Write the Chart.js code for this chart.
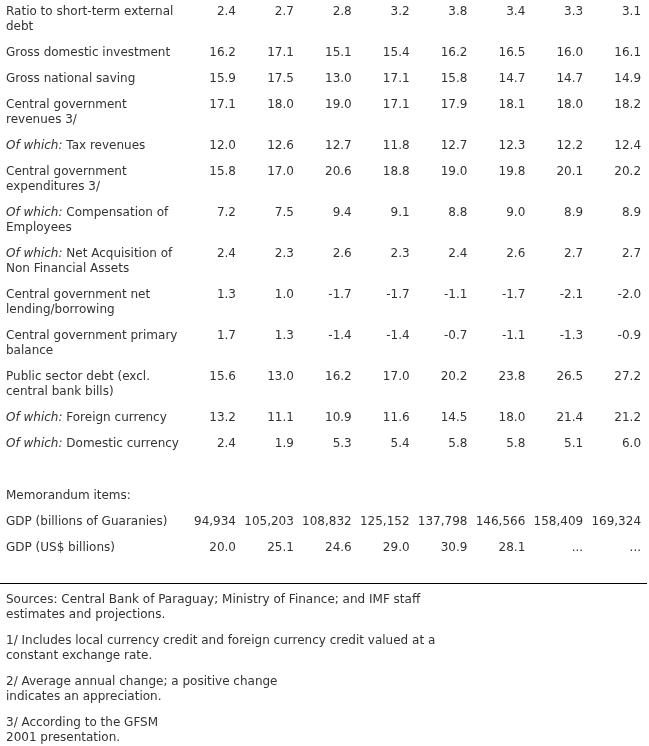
<!DOCTYPE html>
<html>
<head>
<meta charset="utf-8">
<script src="https://cdn.jsdelivr.net/npm/chart.js@4.4.1/dist/chart.umd.min.js"></script>
<style>
  html, body { margin: 0; padding: 0; background: #fff; }
  #wrap { width: 649px; height: 746px; position: relative; }
</style>
</head>
<body>
<div id="wrap"><canvas id="tableChart"></canvas></div>
<script>
// Row labels, wrapped as in the original table ('' = empty spacer row)
const rowLabels = [
  ['Ratio to short-term external', 'debt'],
  ['Gross domestic investment'],
  ['Gross national saving'],
  ['Central government', 'revenues 3/'],
  ['Of which: Tax revenues'],
  ['Central government', 'expenditures 3/'],
  ['Of which: Compensation of', 'Employees'],
  ['Of which: Net Acquisition of', 'Non Financial Assets'],
  ['Central government net', 'lending/borrowing'],
  ['Central government primary', 'balance'],
  ['Public sector debt (excl.', 'central bank bills)'],
  ['Of which: Foreign currency'],
  ['Of which: Domestic currency'],
  [''],
  ['Memorandum items:'],
  ['GDP (billions of Guaranies)'],
  ['GDP (US$ billions)']
];

// Values, one array per row, eight columns each
const shortTermDebtRatio = [2.4, 2.7, 2.8, 3.2, 3.8, 3.4, 3.3, 3.1];
const grossInvestment    = [16.2, 17.1, 15.1, 15.4, 16.2, 16.5, 16.0, 16.1];
const grossSaving        = [15.9, 17.5, 13.0, 17.1, 15.8, 14.7, 14.7, 14.9];
const cgRevenues         = [17.1, 18.0, 19.0, 17.1, 17.9, 18.1, 18.0, 18.2];
const taxRevenues        = [12.0, 12.6, 12.7, 11.8, 12.7, 12.3, 12.2, 12.4];
const cgExpenditures     = [15.8, 17.0, 20.6, 18.8, 19.0, 19.8, 20.1, 20.2];
const compensation       = [7.2, 7.5, 9.4, 9.1, 8.8, 9.0, 8.9, 8.9];
const netAcquisition     = [2.4, 2.3, 2.6, 2.3, 2.4, 2.6, 2.7, 2.7];
const netLending         = [1.3, 1.0, -1.7, -1.7, -1.1, -1.7, -2.1, -2.0];
const primaryBalance     = [1.7, 1.3, -1.4, -1.4, -0.7, -1.1, -1.3, -0.9];
const publicDebt         = [15.6, 13.0, 16.2, 17.0, 20.2, 23.8, 26.5, 27.2];
const foreignCurrency    = [13.2, 11.1, 10.9, 11.6, 14.5, 18.0, 21.4, 21.2];
const domesticCurrency   = [2.4, 1.9, 5.3, 5.4, 5.8, 5.8, 5.1, 6.0];
const gdpGuaranies       = [94934, 105203, 108832, 125152, 137798, 146566, 158409, 169324];
const gdpUsd             = [20.0, 25.1, 24.6, 29.0, 30.9, 28.1, null, null];

const rowValues = [
  shortTermDebtRatio, grossInvestment, grossSaving, cgRevenues, taxRevenues,
  cgExpenditures, compensation, netAcquisition, netLending, primaryBalance,
  publicDebt, foreignCurrency, domesticCurrency, null, null, gdpGuaranies, gdpUsd
];

const notes = [
  ['Sources: Central Bank of Paraguay; Ministry of Finance; and IMF staff', 'estimates and projections.'],
  ['1/ Includes local currency credit and foreign currency credit valued at a', 'constant exchange rate.'],
  ['2/ Average annual change; a positive change', 'indicates an appreciation.'],
  ['3/ According to the GFSM', '2001 presentation.']
];

const FONT = '"DejaVu Sans", Verdana, sans-serif';
const textColor = '#333';
const lineHeight = 15;
const rowGap = 11;

// baselines (in y-axis units) worked out from how many lines each row has
const rowBaselines = [];
let yPos = 14.5;
rowLabels.forEach(lines => { rowBaselines.push(yPos); yPos += lines.length * lineHeight + rowGap; });
const ruleY = yPos + 6.5;
const noteBaselines = [];
yPos += lineHeight + rowGap;
notes.forEach(lines => { noteBaselines.push(yPos); yPos += lines.length * lineHeight + rowGap; });

function fmt(v, r) {
  if (v === null) return '...';
  if (Math.abs(v) >= 1000) return v.toLocaleString('en-US');
  return v.toFixed(1);
}

const datasets = rowValues.map((vals, r) => ({
  label: rowLabels[r].join(' '),
  data: vals ? vals.map((v, c) => ({ x: c, y: rowBaselines[r], text: fmt(v) })) : [],
  pointRadius: 0,
  showLine: false
}));

function drawLabel(ctx, line, x, y) {
  const prefix = 'Of which:';
  ctx.textAlign = 'left';
  if (line.startsWith(prefix)) {
    ctx.font = 'italic 12px ' + FONT;
    ctx.fillText(prefix, x, y);
    const w = ctx.measureText(prefix).width;
    ctx.font = '12px ' + FONT;
    ctx.fillText(line.slice(prefix.length), x + w, y);
  } else {
    ctx.font = '12px ' + FONT;
    ctx.fillText(line, x, y);
  }
}

const tableText = {
  id: 'tableText',
  afterDatasetsDraw(chart) {
    const { ctx, chartArea, scales: { y } } = chart;
    const left = chartArea.left + 6;
    ctx.save();
    ctx.fillStyle = textColor;
    ctx.textBaseline = 'alphabetic';

    rowLabels.forEach((lines, r) => {
      lines.forEach((line, k) => {
        drawLabel(ctx, line, left, y.getPixelForValue(rowBaselines[r] + k * lineHeight));
      });
    });

    ctx.font = '12px ' + FONT;
    ctx.textAlign = 'right';
    chart.data.datasets.forEach((ds, i) => {
      chart.getDatasetMeta(i).data.forEach((pt, j) => {
        ctx.fillText(ds.data[j].text, pt.x, pt.y);
      });
    });

    ctx.fillStyle = '#000';
    ctx.fillRect(chartArea.left, Math.round(y.getPixelForValue(ruleY)), 647, 1);

    ctx.fillStyle = textColor;
    notes.forEach((lines, n) => {
      lines.forEach((line, k) => {
        drawLabel(ctx, line, left, y.getPixelForValue(noteBaselines[n] + k * lineHeight));
      });
    });
    ctx.restore();
  }
};

new Chart(document.getElementById('tableChart'), {
  type: 'scatter',
  data: { datasets },
  options: {
    responsive: true,
    maintainAspectRatio: false,
    animation: false,
    events: [],
    layout: { padding: 0 },
    plugins: { legend: { display: false }, tooltip: { enabled: false } },
    scales: {
      x: { type: 'linear', display: false, min: -4.079, max: 7.138 },
      y: { type: 'linear', display: false, reverse: true, min: 0, max: 746 }
    }
  },
  plugins: [tableText]
});
</script>
</body>
</html>
